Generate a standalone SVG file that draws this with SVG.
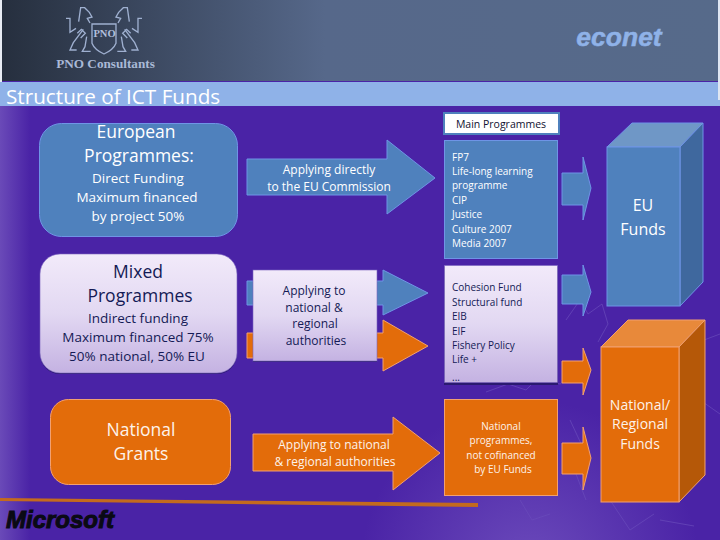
<svg xmlns="http://www.w3.org/2000/svg" width="720" height="540" viewBox="0 0 720 540">
<style>
text{font-family:"Open Sans","Noto Sans","DejaVu Sans",sans-serif;text-anchor:middle}
.w{fill:#fff}.wl{fill:#fdf3ea}.d{fill:#141a55}
.l{text-anchor:start}
.f18{font-size:17.5px}.f14{font-size:13.5px}.f12{font-size:12px}.f10{font-size:10px}.f16{font-size:16px}
.blue{fill:#4f81bd;stroke:#6f94e6;stroke-width:1}
.orange{fill:#e36c0a;stroke:#f2a070;stroke-width:1}
.pale{fill:url(#pale);stroke:#7c64c0;stroke-width:.6}
.sh{fill:#2a1a70}
.lion{fill:none;stroke:#9fb0d0;stroke-width:4}
</style>
<defs>
<linearGradient id="hdr" x1="0" x2="1" y1="0" y2="0"><stop offset="0" stop-color="#262f3e"/><stop offset=".45" stop-color="#56688a"/><stop offset="1" stop-color="#566a8a"/></linearGradient>
<linearGradient id="left" x1="0" x2="1" y1="0" y2="0"><stop offset="0" stop-color="#6a4ab8"/><stop offset="1" stop-color="#4a23a6"/></linearGradient>
<linearGradient id="pale" x1="0" x2="0" y1="0" y2="1"><stop offset="0" stop-color="#f2eafa"/><stop offset=".5" stop-color="#e2d8f2"/><stop offset="1" stop-color="#c4b2e2"/></linearGradient>
<radialGradient id="glow" cx="530" cy="570" r="170" gradientUnits="userSpaceOnUse"><stop offset="0" stop-color="#7a5cc4" stop-opacity=".7"/><stop offset="1" stop-color="#7a5cc4" stop-opacity="0"/></radialGradient>
<g id="lionshape"><path d="M198 55h12v42l18-12M236 65l6-42h12l14 14 8 14-14 4 8 14M250 88l-30 40-10 22h20M260 110l-5 30-8 14h25M232 100l12-12 12 12-14 14"/></g>
</defs>
<rect width="720" height="540" fill="#4a23a6"/>
<rect width="30" height="540" y="106" fill="url(#left)"/>
<rect width="720" height="540" fill="url(#glow)"/>
<g fill="none" stroke="#6a4cba" stroke-width="1" opacity=".7">
<path d="M566 320l14-20 8 14 14-10 6 20-10 18M486 392l22-8 18 6 12-12 22 6 18-10M520 500l12 20 18-6M610 500l20 30 24-16M690 320l14 20 16-6M700 400l20 14M660 520l34 6M570 420l14 30-8 24 10 26"/>
</g>
<rect x="2" y="0" width="718" height="81" fill="url(#hdr)"/>
<rect x="0" y="82" width="720" height="24" fill="#8fb2e8"/>
<rect x="0" y="0" width="2" height="82" fill="#e8ecf4"/>
<rect x="718" y="0" width="2" height="100" fill="#dfe6f2"/>
<text class="l" x="6" y="104" font-size="20.700" fill="#fff">Structure of ICT Funds</text>

<g id="pno-logo">
<g transform="scale(.3333)" class="lion"><use href="#lionshape"/><use href="#lionshape" transform="translate(624 0) scale(-1 1)"/><path d="M276 72H348V130Q340 150 312 162 284 150 276 130Z"/></g>
<text x="104.500" y="37" font-size="10.500" font-weight="700" fill="#b0bfdc" style="font-family:'Liberation Serif',serif">PNO</text>
<text x="105.500" y="68" font-size="13.200" font-weight="700" fill="#a9b9d6" style="font-family:'Liberation Serif',serif">PNO Consultants</text>
</g>
<g id="econet-logo"><text x="619" y="46" font-size="26.500" font-weight="700" font-style="italic" fill="#8fb2e8" stroke="#8fb2e8" stroke-width=".5" style="font-family:'Liberation Sans',sans-serif">econet</text></g>

<g id="connectors">
<path class="blue" d="M247 159H387V140L435 178 387 214V195H247Z"/>
<path class="blue" d="M247 281H383V270L428 293 383 315V305H247Z"/>
<path class="orange" d="M247 333H383V320L428 346 383 371V358H247Z"/>
<path class="orange" d="M253 434H393V417L440 453 393 490V471H253Z"/>
<path class="blue" d="M562 173H583V157L591 188 583 220V205H562Z"/>
<path class="blue" d="M562 275H583V265L591 292 583 316V304H562Z"/>
<path class="orange" d="M562 361H583V348L591 370 583 395V383H562Z"/>
<path class="orange" d="M562 443H583V427L591 458 583 490V474H562Z"/>
<path d="M0 498L478 503V507L0 501Z" fill="#c46a1e"/>
</g>

<g id="european"><rect class="blue" x="39.500" y="123.500" width="198" height="113" rx="22"/>
<text class="w f18" x="136" y="138">European</text><text class="w f18" x="139" y="162">Programmes:</text>
<text class="w f14" x="138" y="183">Direct Funding</text><text class="w f14" x="137" y="202">Maximum financed</text><text class="w f14" x="138" y="221">by project 50%</text></g>

<g id="mixed"><rect class="sh" x="40" y="256" width="197" height="118" rx="20"/><rect class="pale" x="40" y="254" width="197" height="119" rx="20"/>
<text class="d f18" x="138" y="278">Mixed</text><text class="d f18" x="140" y="302">Programmes</text>
<text class="d f14" x="138" y="323">Indirect funding</text><text class="d f14" x="138" y="342">Maximum financed 75%</text><text class="d f14" x="137" y="361">50% national, 50% EU</text></g>

<g id="national"><rect class="orange" x="50.500" y="399.500" width="180" height="85" rx="18"/>
<text class="wl f18" x="141" y="436">National</text><text class="wl f18" x="141" y="460">Grants</text></g>

<g id="apply-direct"><text class="w f12" x="329" y="174">Applying directly</text><text class="w f12" x="329" y="191">to the EU Commission</text></g>
<g id="apply-regional"><rect class="sh" x="253" y="272" width="124" height="90"/><rect class="pale" x="253" y="270" width="124" height="91"/>
<text class="d f12" x="314" y="295">Applying to</text><text class="d f12" x="314" y="312">national &amp;</text><text class="d f12" x="315" y="328">regional</text><text class="d f12" x="316" y="345">authorities</text></g>
<g id="apply-national"><text class="wl f12" x="334" y="449">Applying to national</text><text class="wl f12" x="335" y="466">&amp; regional authorities</text></g>

<g id="main-programmes"><rect x="444" y="113" width="115" height="21" fill="#fff" stroke="#4f81bd" stroke-width="2"/><text x="501" y="128" font-size="10.500" fill="#101030">Main Programmes</text></g>

<g id="fp7"><rect class="blue" x="444.500" y="140.500" width="113" height="118"/>
<g class="w f10"><text class="l" x="452" y="161">FP7</text><text class="l" x="452" y="175">Life-long learning</text><text class="l" x="452" y="189">programme</text><text class="l" x="452" y="204">CIP</text><text class="l" x="452" y="218">Justice</text><text class="l" x="452" y="233">Culture 2007</text><text class="l" x="452" y="247">Media 2007</text></g></g>

<g id="cohesion"><rect class="sh" x="444" y="267" width="114" height="118"/><rect class="pale" x="444.500" y="265.500" width="113" height="117"/>
<g class="d f10"><text class="l" x="452" y="291">Cohesion Fund</text><text class="l" x="452" y="306">Structural fund</text><text class="l" x="452" y="320">EIB</text><text class="l" x="452" y="335">EIF</text><text class="l" x="452" y="349">Fishery Policy</text><text class="l" x="452" y="363">Life +</text><text class="l" x="452" y="381">...</text></g></g>

<g id="national-programmes"><rect class="orange" x="444.500" y="399.500" width="113" height="96"/>
<g class="wl f10"><text x="501" y="430">National</text><text x="501" y="444">programmes,</text><text x="501" y="459">not cofinanced</text><text x="503" y="473">by EU Funds</text></g></g>

<g id="eu-funds"><path d="M607 147L632 123H703L680 147Z" fill="#6f97c6" stroke="#6f94e6"/><path d="M680 147L703 123V282L680 306Z" fill="#3f689e" stroke="#6f94e6"/><rect class="blue" x="607" y="147" width="73" height="159"/>
<text class="w f16" x="643" y="211">EU</text><text class="w f16" x="643" y="235">Funds</text></g>

<g id="national-funds"><path d="M601 347L628 320H705L679 347Z" fill="#e8893a" stroke="#f2a070"/><path d="M679 347L705 320V475L679 502Z" fill="#b55808" stroke="#f2a070"/><rect class="orange" x="601" y="347" width="78" height="155"/>
<g class="wl" font-size="14"><text x="640" y="410">National/</text><text x="640" y="429">Regional</text><text x="640" y="449">Funds</text></g></g>

<g id="microsoft-logo"><text x="60" y="528" font-size="24" font-weight="700" font-style="italic" fill="#0a0a14" stroke="#0a0a14" stroke-width="1" style="font-family:'Liberation Sans',sans-serif">Microsoft</text></g>
</svg>
